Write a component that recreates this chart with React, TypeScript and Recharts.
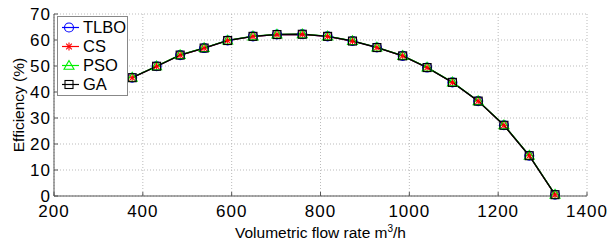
import { LineChart, Line, XAxis, YAxis, CartesianGrid } from 'recharts';

document.body.style.margin = '0';

const FONT = '"Liberation Sans", Arial, Helvetica, sans-serif';

// volumetric flow rate (m3/h) and efficiency (%) per optimiser
const flowRate = [376, 431, 484, 538, 591, 648, 702, 759, 816, 872, 927, 985, 1040, 1097, 1155, 1213, 1270, 1328];
const tlbo = [45.5, 49.9, 54.2, 56.9, 59.8, 61.4, 62.1, 62.2, 61.4, 59.6, 57.1, 53.9, 49.4, 43.7, 36.5, 27.2, 15.5, 0.5];
const cs = [45.5, 49.9, 54.2, 56.9, 59.8, 61.4, 62.1, 62.2, 61.4, 59.6, 57.1, 53.9, 49.4, 43.7, 36.5, 27.2, 15.5, 0.5];
const pso = [45.6, 50.0, 54.3, 57.0, 59.9, 61.5, 62.2, 62.3, 61.5, 59.7, 57.2, 54.0, 49.5, 43.8, 36.6, 27.3, 15.6, 0.6];
const ga = [45.5, 49.9, 54.2, 56.9, 59.8, 61.4, 62.1, 62.2, 61.4, 59.6, 57.1, 53.9, 49.4, 43.7, 36.5, 27.2, 15.5, 0.5];

const xTicks = [200, 400, 600, 800, 1000, 1200, 1400];
const yTicks = [0, 10, 20, 30, 40, 50, 60, 70];

const data = flowRate.map((q, i) => ({ q, tlbo: tlbo[i], cs: cs[i], pso: pso[i], ga: ga[i] }));

const AXIS = '#555';

function circleMark(cx: number, cy: number, key?: any) {
  return <circle key={key} cx={cx} cy={cy} r={4.5} fill="none" stroke="#0000ff" strokeWidth={1.1} />;
}
function starMark(cx: number, cy: number, key?: any) {
  const r = 4;
  const d = r * 0.707;
  return (
    <g key={key} stroke="#ff0000" strokeWidth={1.1}>
      <line x1={cx - r} y1={cy} x2={cx + r} y2={cy} />
      <line x1={cx} y1={cy - r} x2={cx} y2={cy + r} />
      <line x1={cx - d} y1={cy - d} x2={cx + d} y2={cy + d} />
      <line x1={cx - d} y1={cy + d} x2={cx + d} y2={cy - d} />
    </g>
  );
}
function triMark(cx: number, cy: number, key?: any) {
  const r = 5;
  return (
    <polygon
      key={key}
      points={`${cx},${cy - r} ${cx - r},${cy + r * 0.75} ${cx + r},${cy + r * 0.75}`}
      fill="none"
      stroke="#00ee00"
      strokeWidth={1.1}
    />
  );
}
function squareMark(cx: number, cy: number, key?: any) {
  return <rect key={key} x={cx - 4} y={cy - 4} width={8} height={8} fill="none" stroke="#000" strokeWidth={1.1} />;
}

const XTick = (props: any) => {
  const { x, y, payload } = props;
  return (
    <g>
      <line x1={x} x2={x} y1={y} y2={y - 4} stroke={AXIS} />
      <text x={x} y={y + 21} textAnchor="middle" fontSize={17} letterSpacing={1} fontFamily={FONT} fill="#000">
        {payload.value}
      </text>
    </g>
  );
};

const YTick = (props: any) => {
  const { x, y, payload } = props;
  return (
    <g>
      <line x1={x} x2={x + 4} y1={y} y2={y} stroke={AXIS} />
      <text x={x - 3} y={y + 6} textAnchor="end" fontSize={17} letterSpacing={1} fontFamily={FONT} fill="#000">
        {payload.value}
      </text>
    </g>
  );
};

const XLabel = (props: any) => {
  const { viewBox } = props;
  const cx = viewBox.x + viewBox.width / 2;
  return (
    <text x={cx} y={238} textAnchor="middle" fontSize={15.5} fontFamily={FONT} fill="#000">
      Volumetric flow rate m<tspan dy={-6} fontSize={10}>3</tspan>
      <tspan dy={6}>/h</tspan>
    </text>
  );
};

const YLabel = (props: any) => {
  const { viewBox } = props;
  const cy = viewBox.y + viewBox.height / 2;
  return (
    <text
      x={18}
      y={cy}
      transform={`rotate(-90, 18, ${cy})`}
      textAnchor="middle"
      dominantBaseline="central"
      fontSize={15.5}
      fontFamily={FONT}
      fill="#000"
    >
      Efficiency (%)
    </text>
  );
};

const legendItems = [
  { name: 'TLBO', color: '#0000ff', mark: circleMark },
  { name: 'CS', color: '#ff0000', mark: starMark },
  { name: 'PSO', color: '#00ee00', mark: triMark },
  { name: 'GA', color: '#000000', mark: squareMark },
];

function ChartLegend() {
  return (
    <div
      style={{
        position: 'absolute',
        left: 57,
        top: 16,
        width: 69,
        height: 78,
        border: '1px solid #888',
        background: '#fff',
        fontFamily: FONT,
        fontSize: 16.5,
      }}
    >
      {legendItems.map((it, i) => (
        <div
          key={it.name}
          style={{ position: 'absolute', left: 0, top: 1 + i * 19.1, height: 19, display: 'flex', alignItems: 'center' }}
        >
          <svg width={25} height={19} style={{ display: 'block' }}>
            <line x1={4} x2={21} y1={9.5} y2={9.5} stroke={it.color} strokeWidth={1.2} />
            {it.mark(11, 9.5)}
          </svg>
          <span style={{ lineHeight: '19px' }}>{it.name}</span>
        </div>
      ))}
    </div>
  );
}

export default function App() {
  return (
    <div style={{ position: 'relative', width: 608, height: 243, background: '#fff' }}>
      <LineChart width={608} height={243} data={data} margin={{ top: 14, right: 21, bottom: 0, left: 0 }}>
        <CartesianGrid stroke="#bbb" strokeDasharray="1 2" />
        <XAxis
          dataKey="q"
          type="number"
          domain={[200, 1400]}
          ticks={xTicks}
          height={47}
          tickSize={0}
          tickMargin={0}
          tickLine={false}
          axisLine={{ stroke: AXIS }}
          tick={<XTick />}
          label={<XLabel />}
        />
        <YAxis
          type="number"
          domain={[0, 70]}
          ticks={yTicks}
          width={54}
          tickSize={0}
          tickMargin={0}
          tickLine={false}
          axisLine={{ stroke: AXIS }}
          tick={<YTick />}
          label={<YLabel />}
        />
        <Line
          dataKey="tlbo"
          stroke="#0000ff"
          strokeWidth={1.2}
          isAnimationActive={false}
          dot={(p: any) => circleMark(p.cx, p.cy, `t${p.index}`)}
        />
        <Line
          dataKey="cs"
          stroke="#ff0000"
          strokeWidth={1.2}
          isAnimationActive={false}
          dot={(p: any) => starMark(p.cx, p.cy, `c${p.index}`)}
        />
        <Line
          dataKey="pso"
          stroke="#00ee00"
          strokeWidth={1.2}
          isAnimationActive={false}
          dot={(p: any) => triMark(p.cx, p.cy, `p${p.index}`)}
        />
        <Line
          dataKey="ga"
          stroke="#000000"
          strokeWidth={1.4}
          isAnimationActive={false}
          dot={(p: any) => squareMark(p.cx, p.cy, `g${p.index}`)}
        />
      </LineChart>
      <ChartLegend />
    </div>
  );
}
